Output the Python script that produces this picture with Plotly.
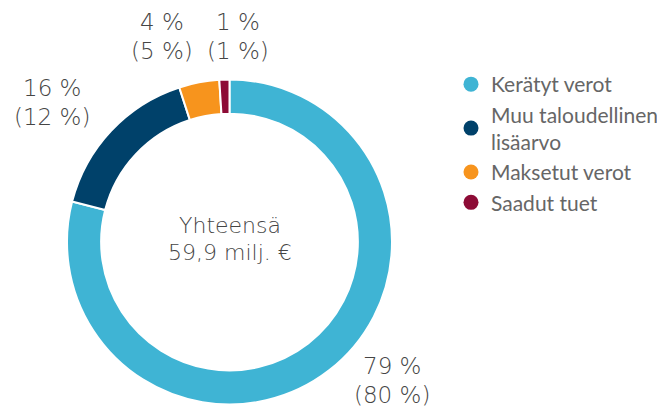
import plotly.graph_objects as go

# data
categories = ["Kerätyt verot", "Muu taloudellinen<br>lisäarvo", "Maksetut verot", "Saadut tuet"]
shares = [79, 16, 4, 1]
prev_shares = [80, 12, 5, 1]
colors = ["#3fb4d4", "#00416a", "#f7941d", "#8d0b36"]
total_lines = ["Yhteensä", "59,9 milj. €"]

# page has an 8px body margin; positions below are window pixels
OFF = 8
W, H = 665, 411
# label line centres (x, y of first line)
label_pos = [(392, 366), (52, 88), (162, 22), (238, 22)]
LINE = 29

TEXT = "#454545"
FONT = "DejaVu Sans"


def px(x, y):
    return (x - OFF) / W, 1 - (y - OFF) / H


def add_text(fig, x, y, text, size):
    ax, ay = px(x, y)
    fig.add_annotation(
        x=ax, y=ay, xref="paper", yref="paper",
        text=text, showarrow=False,
        xanchor="center", yanchor="middle",
        font=dict(family=FONT, size=size, color=TEXT, weight=200),
    )


def main():
    fig = go.Figure()

    x0, y1 = px(67, 79)
    x1, y0 = px(392, 405)
    fig.add_trace(go.Pie(
        labels=categories,
        values=shares,
        sort=False,
        direction="clockwise",
        rotation=0,
        hole=0.79,
        textinfo="none",
        hoverinfo="label+percent",
        marker=dict(colors=colors, line=dict(color="white", width=2)),
        domain=dict(x=[x0, x1], y=[y0, y1]),
        showlegend=False,
    ))

    # dummy traces so the legend shows round markers
    for name, c in zip(categories, colors):
        fig.add_trace(go.Scatter(
            x=[None], y=[None], mode="markers", name=name,
            marker=dict(color=c, size=15, symbol="circle"),
            legendgroup=name,
        ))

    # percentage labels, one annotation per line
    for s, p, (x, y) in zip(shares, prev_shares, label_pos):
        add_text(fig, x, y, f"{s} %", 23)
        add_text(fig, x, y + LINE, f"({p} %)", 23)

    add_text(fig, 230, 225, total_lines[0], 22)
    add_text(fig, 230, 252, total_lines[1], 22)

    lx, ly = px(451, 64)
    fig.update_xaxes(visible=False)
    fig.update_yaxes(visible=False)
    fig.update_layout(
        width=W, height=H,
        margin=dict(l=0, r=0, t=0, b=0),
        paper_bgcolor="white",
        plot_bgcolor="white",
        legend=dict(
            x=lx, y=ly, xanchor="left", yanchor="top",
            font=dict(family="Lato", size=21, color="#666666"),
            tracegroupgap=0,
            itemclick=False,
        ),
    )

    fig.write_html("out.html")


if __name__ == "__main__":
    main()
